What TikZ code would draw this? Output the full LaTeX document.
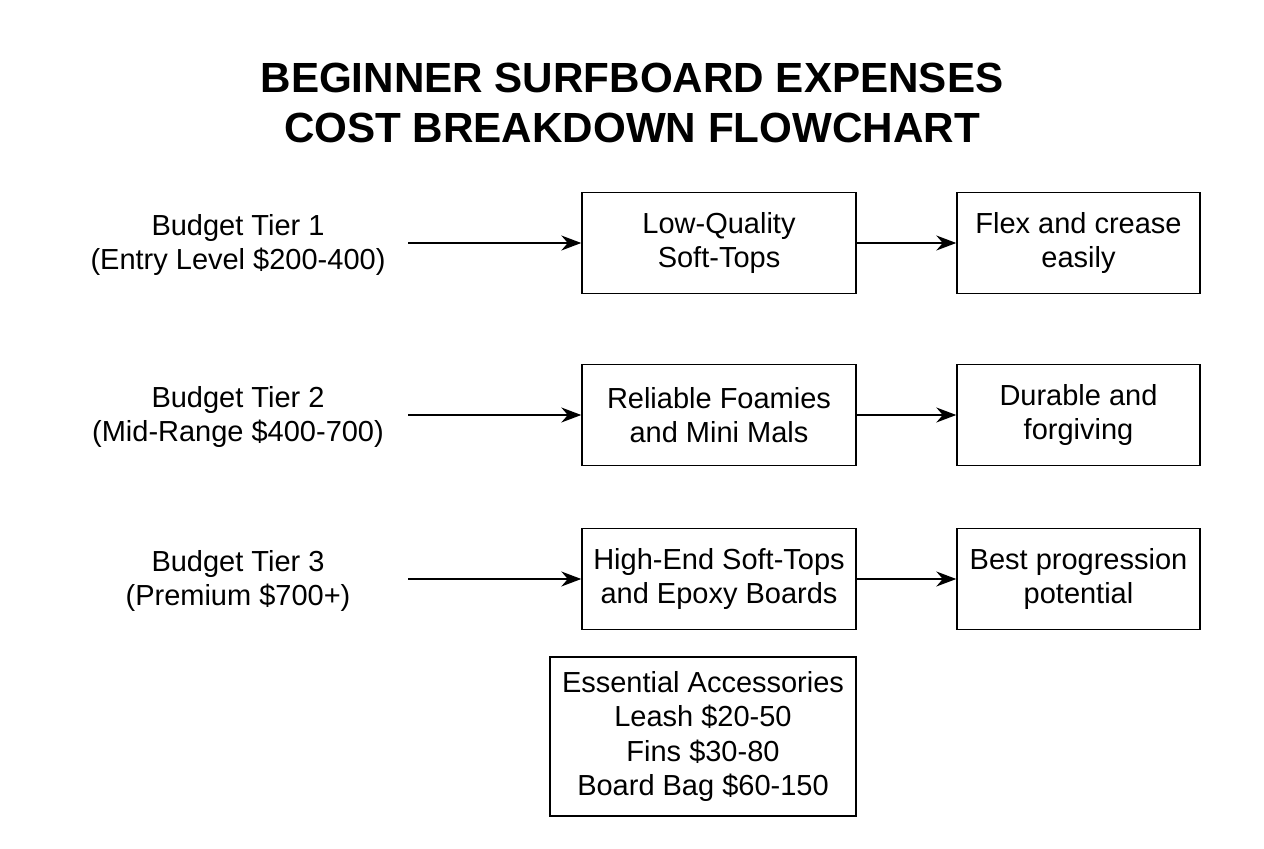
\documentclass[tikz,border=0pt]{standalone}
\usepackage{fontspec}
\setmainfont{Liberation Sans}
\usetikzlibrary{positioning,arrows.meta}
\tikzset{
  tier/.style={align=center,font=\fontsize{16.5}{19.5}\selectfont},
  box/.style={draw,thick,align=center,inner sep=1pt,minimum height=2.02cm,font=\fontsize{16.5}{19.5}\selectfont},
  link/.style={thick,-{Stealth[length=4mm,width=3mm]}}
}
\begin{document}
\begin{tikzpicture}
   \useasboundingbox (0,0) rectangle (25.28,16.96);
   \node[font=\bfseries\fontsize{24}{28}\selectfont,align=center] (title) at (12.64,14.9)
      {BEGINNER SURFBOARD EXPENSES\\ COST BREAKDOWN FLOWCHART};

   \node[tier] (t1) at (4.76,12.06) {Budget Tier 1\\(Entry Level \$200-400)};
   \node[tier] (t2) at (4.76,8.62) {Budget Tier 2\\(Mid-Range \$400-700)};
   \node[tier] (t3) at (4.76,5.34) {Budget Tier 3\\(Premium \$700+)};
   \coordinate (s1) at (8.16,12.1);
   \coordinate (s2) at (8.16,8.66);
   \coordinate (s3) at (8.16,5.38);

   \node[box,minimum width=5.48cm] (b1) at (14.38,12.1) {Low-Quality\\Soft-Tops};
   \node[box,minimum width=5.48cm] (b2) at (14.38,8.66) {Reliable Foamies\\and Mini Mals};
   \node[box,minimum width=5.48cm] (b3) at (14.38,5.38) {High-End Soft-Tops\\and Epoxy Boards};

   \node[box,minimum width=4.86cm] (r1) at (21.57,12.1) {Flex and crease\\easily};
   \node[box,minimum width=4.86cm] (r2) at (21.57,8.66) {Durable and\\forgiving};
   \node[box,minimum width=4.86cm] (r3) at (21.57,5.38) {Best progression\\potential};

   \node[box,minimum width=6.12cm,minimum height=3.18cm] (acc) at (14.06,2.23)
      {Essential Accessories\\Leash \$20-50\\Fins \$30-80\\Board Bag \$60-150};

   \foreach \i in {1,2,3} {
      \draw[link] (s\i) -- (b\i);
      \draw[link] (b\i) -- (r\i);
   }
\end{tikzpicture}
\end{document}
